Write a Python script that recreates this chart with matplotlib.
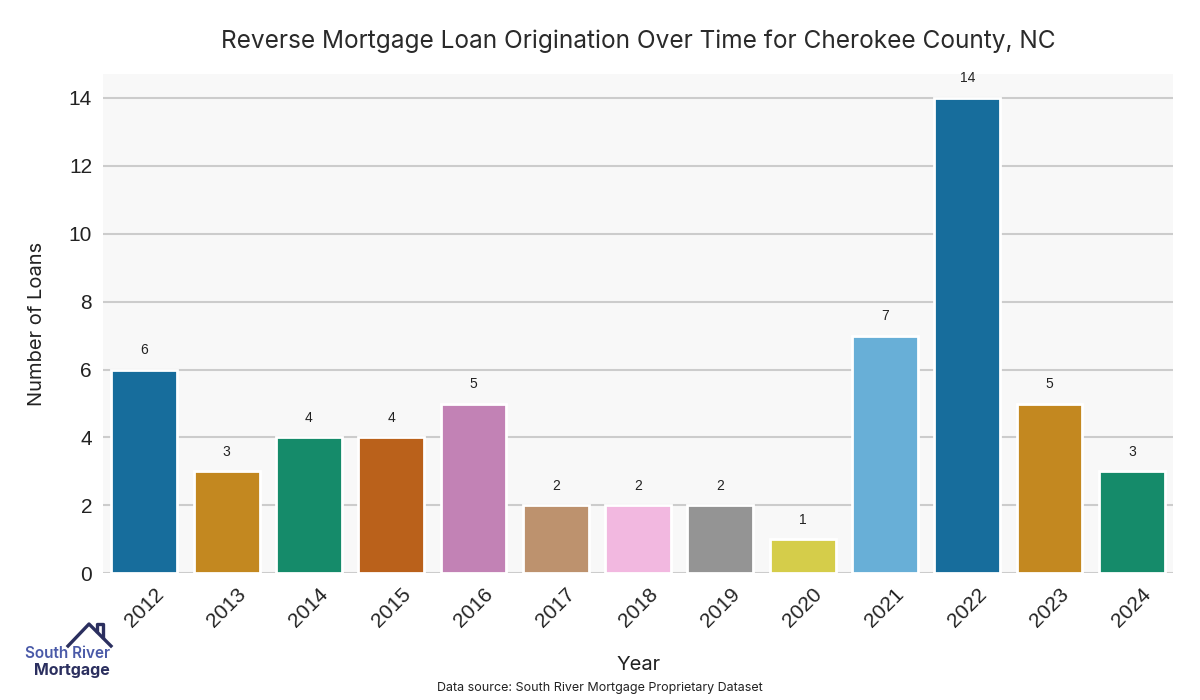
import matplotlib
matplotlib.use("Agg")
import matplotlib.pyplot as plt
import seaborn as sns

# Data
years = ["2012", "2013", "2014", "2015", "2016", "2017", "2018",
         "2019", "2020", "2021", "2022", "2023", "2024"]
loans = [6, 3, 4, 4, 5, 2, 2, 2, 1, 7, 14, 5, 3]

title = "Reverse Mortgage Loan Origination Over Time for Cherokee County, NC"
source = "Data source: South River Mortgage Proprietary Dataset"

# seaborn colorblind palette, desaturated like barplot does
colors = [sns.desaturate(c, 0.75) for c in sns.color_palette("colorblind", len(years))]

fig = plt.figure(figsize=(12, 7), dpi=100)
ax = fig.add_axes([0.086, 0.181, 0.8915, 0.713])
ax.set_facecolor("#f8f8f8")

x = range(len(years))
bars = ax.bar(x, loans, width=0.8, color=colors, edgecolor="white", linewidth=2, zorder=3)

for b, v in zip(bars, loans):
    ax.annotate(str(v), (b.get_x() + b.get_width() / 2, v), xytext=(0, 9),
                textcoords="offset points", ha="center", va="bottom",
                fontsize=10, color="#222222", family="Liberation Sans")

ax.set_xlim(-0.5, len(years) - 0.5)
ax.set_ylim(0, 14.7)
ax.set_yticks(range(0, 15, 2))
ax.set_xticks(list(x))
ax.set_xticklabels(years, rotation=45, ha="center", fontsize=15,
                   family="Liberation Sans", color="#222222")
for lbl in ax.get_yticklabels():
    lbl.set_fontsize(15)
    lbl.set_family("Liberation Sans")
    lbl.set_color("#222222")
ax.tick_params(length=0, pad=8)

ax.yaxis.grid(True, color="#cccccc", linewidth=1.5, zorder=0)
ax.set_axisbelow(True)
for s in ax.spines.values():
    s.set_visible(False)

ax.set_ylabel("Number of Loans", fontsize=14.5, family="Inter", color="#222222", labelpad=16)
ax.set_xlabel("Year", fontsize=14.5, family="Inter", color="#222222", labelpad=18)
ax.set_title(title, fontsize=17.6, family="Inter", color="#2a2a2a", pad=19)
fig.text(0.5, 0.017, source, ha="center", va="center", fontsize=9, family="Inter", color="#222222")

# Logo
lw = 2.4
navy = "#2b2f5f"
fig.add_artist(plt.Line2D([68 / 1200, 89 / 1200, 111 / 1200],
                          [1 - 646 / 700, 1 - 624 / 700, 1 - 646 / 700],
                          color=navy, lw=lw, transform=fig.transFigure))
fig.add_artist(plt.Line2D([97 / 1200, 97 / 1200, 103 / 1200, 103 / 1200],
                          [1 - 631 / 700, 1 - 624 / 700, 1 - 624 / 700, 1 - 637 / 700],
                          color=navy, lw=lw, transform=fig.transFigure))
fig.text(110 / 1200, 1 - 654 / 700, "South River", ha="right", va="center",
         fontsize=11, fontweight="semibold", family="Inter", color="#4a5aa8")
fig.text(110 / 1200, 1 - 670 / 700, "Mortgage", ha="right", va="center",
         fontsize=11.5, fontweight="bold", family="Inter", color=navy)

fig.savefig("out.png", dpi=100)
